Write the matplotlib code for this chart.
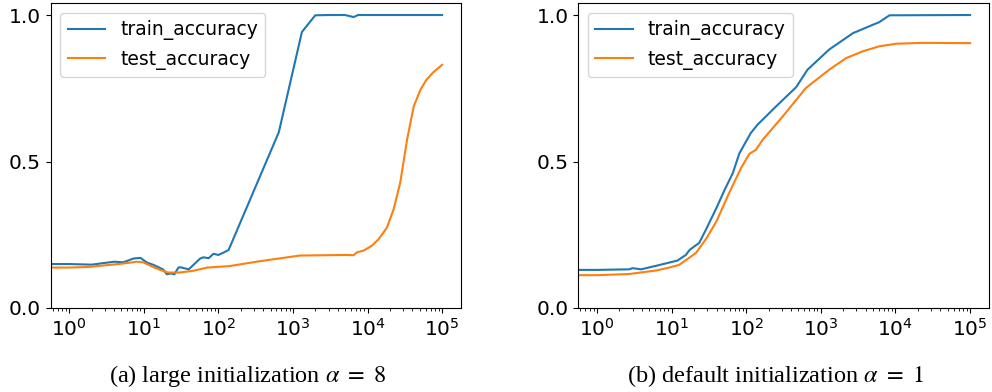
import numpy as np
import matplotlib
matplotlib.use("Agg")
from matplotlib import pyplot as plt

# (a) large initialization, alpha = 8
steps_train_a = [0, 1, 2, 4, 5.3, 7.3, 9, 11, 13.5, 18, 20.4, 23, 25.7, 29, 31, 40,
                 57, 63, 74, 86, 100, 117, 137, 646, 1318, 1990, 3000, 5000, 6500,
                 7500, 10000, 30000, 100000]
train_a = [0.151, 0.150, 0.148, 0.158, 0.156, 0.169, 0.171, 0.155, 0.147, 0.132,
           0.115, 0.118, 0.115, 0.138, 0.139, 0.132, 0.169, 0.173, 0.170, 0.185,
           0.181, 0.189, 0.198, 0.600, 0.942, 0.999, 1.0, 1.0, 0.993, 1.0, 1.0,
           1.0, 1.0]

steps_test_a = [0, 1, 1.8, 5.4, 8.1, 9.8, 13.5, 16.6, 21, 30, 46, 71, 141, 324,
                1230, 5200, 6500, 7200, 8900, 11500, 14100, 18200, 22400, 27500,
                33900, 41700, 51300, 61700, 75900, 100000]
test_a = [0.138, 0.138, 0.140, 0.152, 0.158, 0.156, 0.139, 0.130, 0.121, 0.121,
          0.127, 0.138, 0.143, 0.158, 0.179, 0.181, 0.180, 0.190, 0.196, 0.213,
          0.235, 0.274, 0.337, 0.428, 0.574, 0.688, 0.745, 0.779, 0.804, 0.830]

# (b) default initialization, alpha = 1
steps_train_b = [0, 1, 2.7, 3.0, 3.9, 6.2, 9.3, 12, 15.5, 17.4, 21.4, 23.4, 28.8,
                 39.8, 51.3, 66, 81, 115, 141, 251, 468, 661, 1290, 2690, 5010,
                 6000, 8320, 100000]
train_b = [0.130, 0.130, 0.132, 0.136, 0.132, 0.144, 0.155, 0.162, 0.181, 0.198,
           0.215, 0.222, 0.267, 0.341, 0.403, 0.460, 0.528, 0.597, 0.625, 0.688,
           0.754, 0.813, 0.882, 0.938, 0.967, 0.975, 0.999, 1.0]

steps_test_b = [0, 1, 2.7, 6.2, 9.3, 12.6, 17.4, 21.4, 28.8, 39.8, 58.9, 85, 110,
                135, 166, 309, 631, 1290, 2190, 3630, 6030, 10200, 23400, 100000]
test_b = [0.112, 0.112, 0.116, 0.128, 0.138, 0.147, 0.172, 0.189, 0.235, 0.295,
          0.392, 0.477, 0.526, 0.540, 0.574, 0.654, 0.751, 0.813, 0.853, 0.876,
          0.893, 0.902, 0.905, 0.904]

captions = [r"(a) large initialization $\alpha\ =\ 8$",
            r"(b) default initialization $\alpha\ =\ 1$"]

plt.rcParams["font.family"] = ["DejaVu Sans"]
plt.rcParams["mathtext.fontset"] = "dejavusans"

fig = plt.figure(figsize=(9.92, 3.92), dpi=100)
ax_a = fig.add_axes([0.0511, 0.2143, 0.4133, 0.7773])
ax_b = fig.add_axes([0.5830, 0.2143, 0.4137, 0.7773])

panels = [
    (ax_a, steps_train_a, train_a, steps_test_a, test_a),
    (ax_b, steps_train_b, train_b, steps_test_b, test_b),
]

for ax, s_tr, tr, s_te, te in panels:
    ax.plot(s_tr, tr, color="tab:blue", lw=1.5, label="train_accuracy")
    ax.plot(s_te, te, color="tab:orange", lw=1.5, label="test_accuracy")
    ax.set_xscale("log")
    ax.set_xlim(10 ** -0.25, 10 ** 5.25)
    ax.set_ylim(0, 1.04)
    ax.set_yticks([0.0, 0.5, 1.0])
    ax.tick_params(labelsize=14.5)
    ax.legend(loc="upper left", fontsize=13.5)

# captions in serif, like the paper
cap_x = [247.5 / 992, 775 / 992]
for x, txt in zip(cap_x, captions):
    fig.text(x, 10 / 392, txt, ha="center", va="baseline",
             family="Liberation Serif", fontsize=17.5,
             math_fontfamily="stix")

fig.savefig("out.png", dpi=100)
